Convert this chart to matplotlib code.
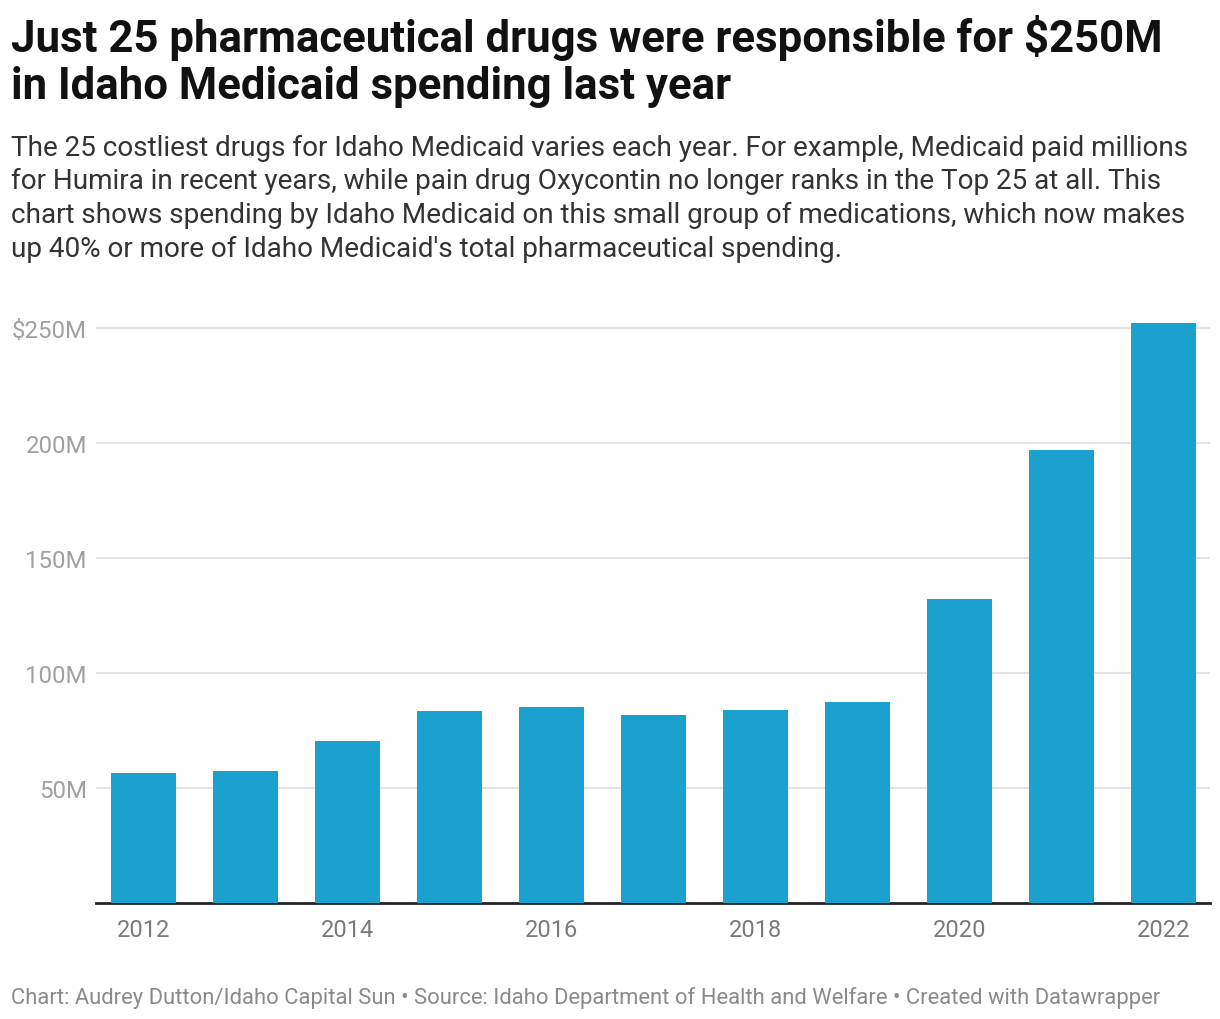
import matplotlib.pyplot as plt
from matplotlib.ticker import FixedLocator

# Dépenses des 25 médicaments les plus coûteux (millions $)
annees = [2012, 2013, 2014, 2015, 2016, 2017, 2018, 2019, 2020, 2021, 2022]
depenses = [56.5, 57.4, 70.4, 83.5, 85.2, 81.7, 83.9, 87.4, 132.2, 197.0, 252.2]
ticks_y = [50, 100, 150, 200, 250]
labels_y = ["50M", "100M", "150M", "200M", "$250M"]
labels_x = ["2012", "", "2014", "", "2016", "", "2018", "", "2020", "", "2022"]

plt.rcParams['font.family'] = ['Roboto', 'DejaVu Sans']

fig = plt.figure(figsize=(12.2, 10.2), dpi=100)
ax = fig.add_axes([96 / 1220, 1 - 904 / 1020, (1210 - 96) / 1220, 0.5908])

positions = range(len(annees))
ax.bar(positions, depenses, width=0.637, color='#1aa1ce', zorder=3)

ax.set_xlim(-0.466, 10.456)
ax.set_ylim(0, 262)
ax.yaxis.set_major_locator(FixedLocator(ticks_y))
ax.set_yticklabels(labels_y)
ax.set_xticks(list(positions))
ax.set_xticklabels(labels_x)

ax.grid(axis='y', color='#e3e3e3', linewidth=1.5, zorder=0)
for s in ['top', 'right', 'left']:
    ax.spines[s].set_visible(False)
ax.spines['bottom'].set_color('#222222')
ax.spines['bottom'].set_linewidth(2)
ax.tick_params(axis='y', length=0, pad=6.5, labelsize=17.3, labelcolor='#a0a0a0')
ax.tick_params(axis='x', length=0, pad=11, labelsize=17, labelcolor='#7a7a7a')

fig.text(0.009, 0.985,
         "Just 25 pharmaceutical drugs were responsible for $250M\n"
         "in Idaho Medicaid spending last year",
         fontsize=31.5, fontweight='bold', color='#111111', va='top',
         linespacing=1.15)
fig.text(0.009, 0.868,
         "The 25 costliest drugs for Idaho Medicaid varies each year. For example, Medicaid paid millions\n"
         "for Humira in recent years, while pain drug Oxycontin no longer ranks in the Top 25 at all. This\n"
         "chart shows spending by Idaho Medicaid on this small group of medications, which now makes\n"
         "up 40% or more of Idaho Medicaid's total pharmaceutical spending.",
         fontsize=20.1, color='#333333', va='top', linespacing=1.315)
fig.text(0.009, 1 - 1004 / 1020,
         "Chart: Audrey Dutton/Idaho Capital Sun \u2022 Source: Idaho Department of Health and Welfare "
         "\u2022 Created with Datawrapper",
         fontsize=15.8, color='#8a8a8a', va='baseline')

fig.savefig("out.png", dpi=100, facecolor='white')
